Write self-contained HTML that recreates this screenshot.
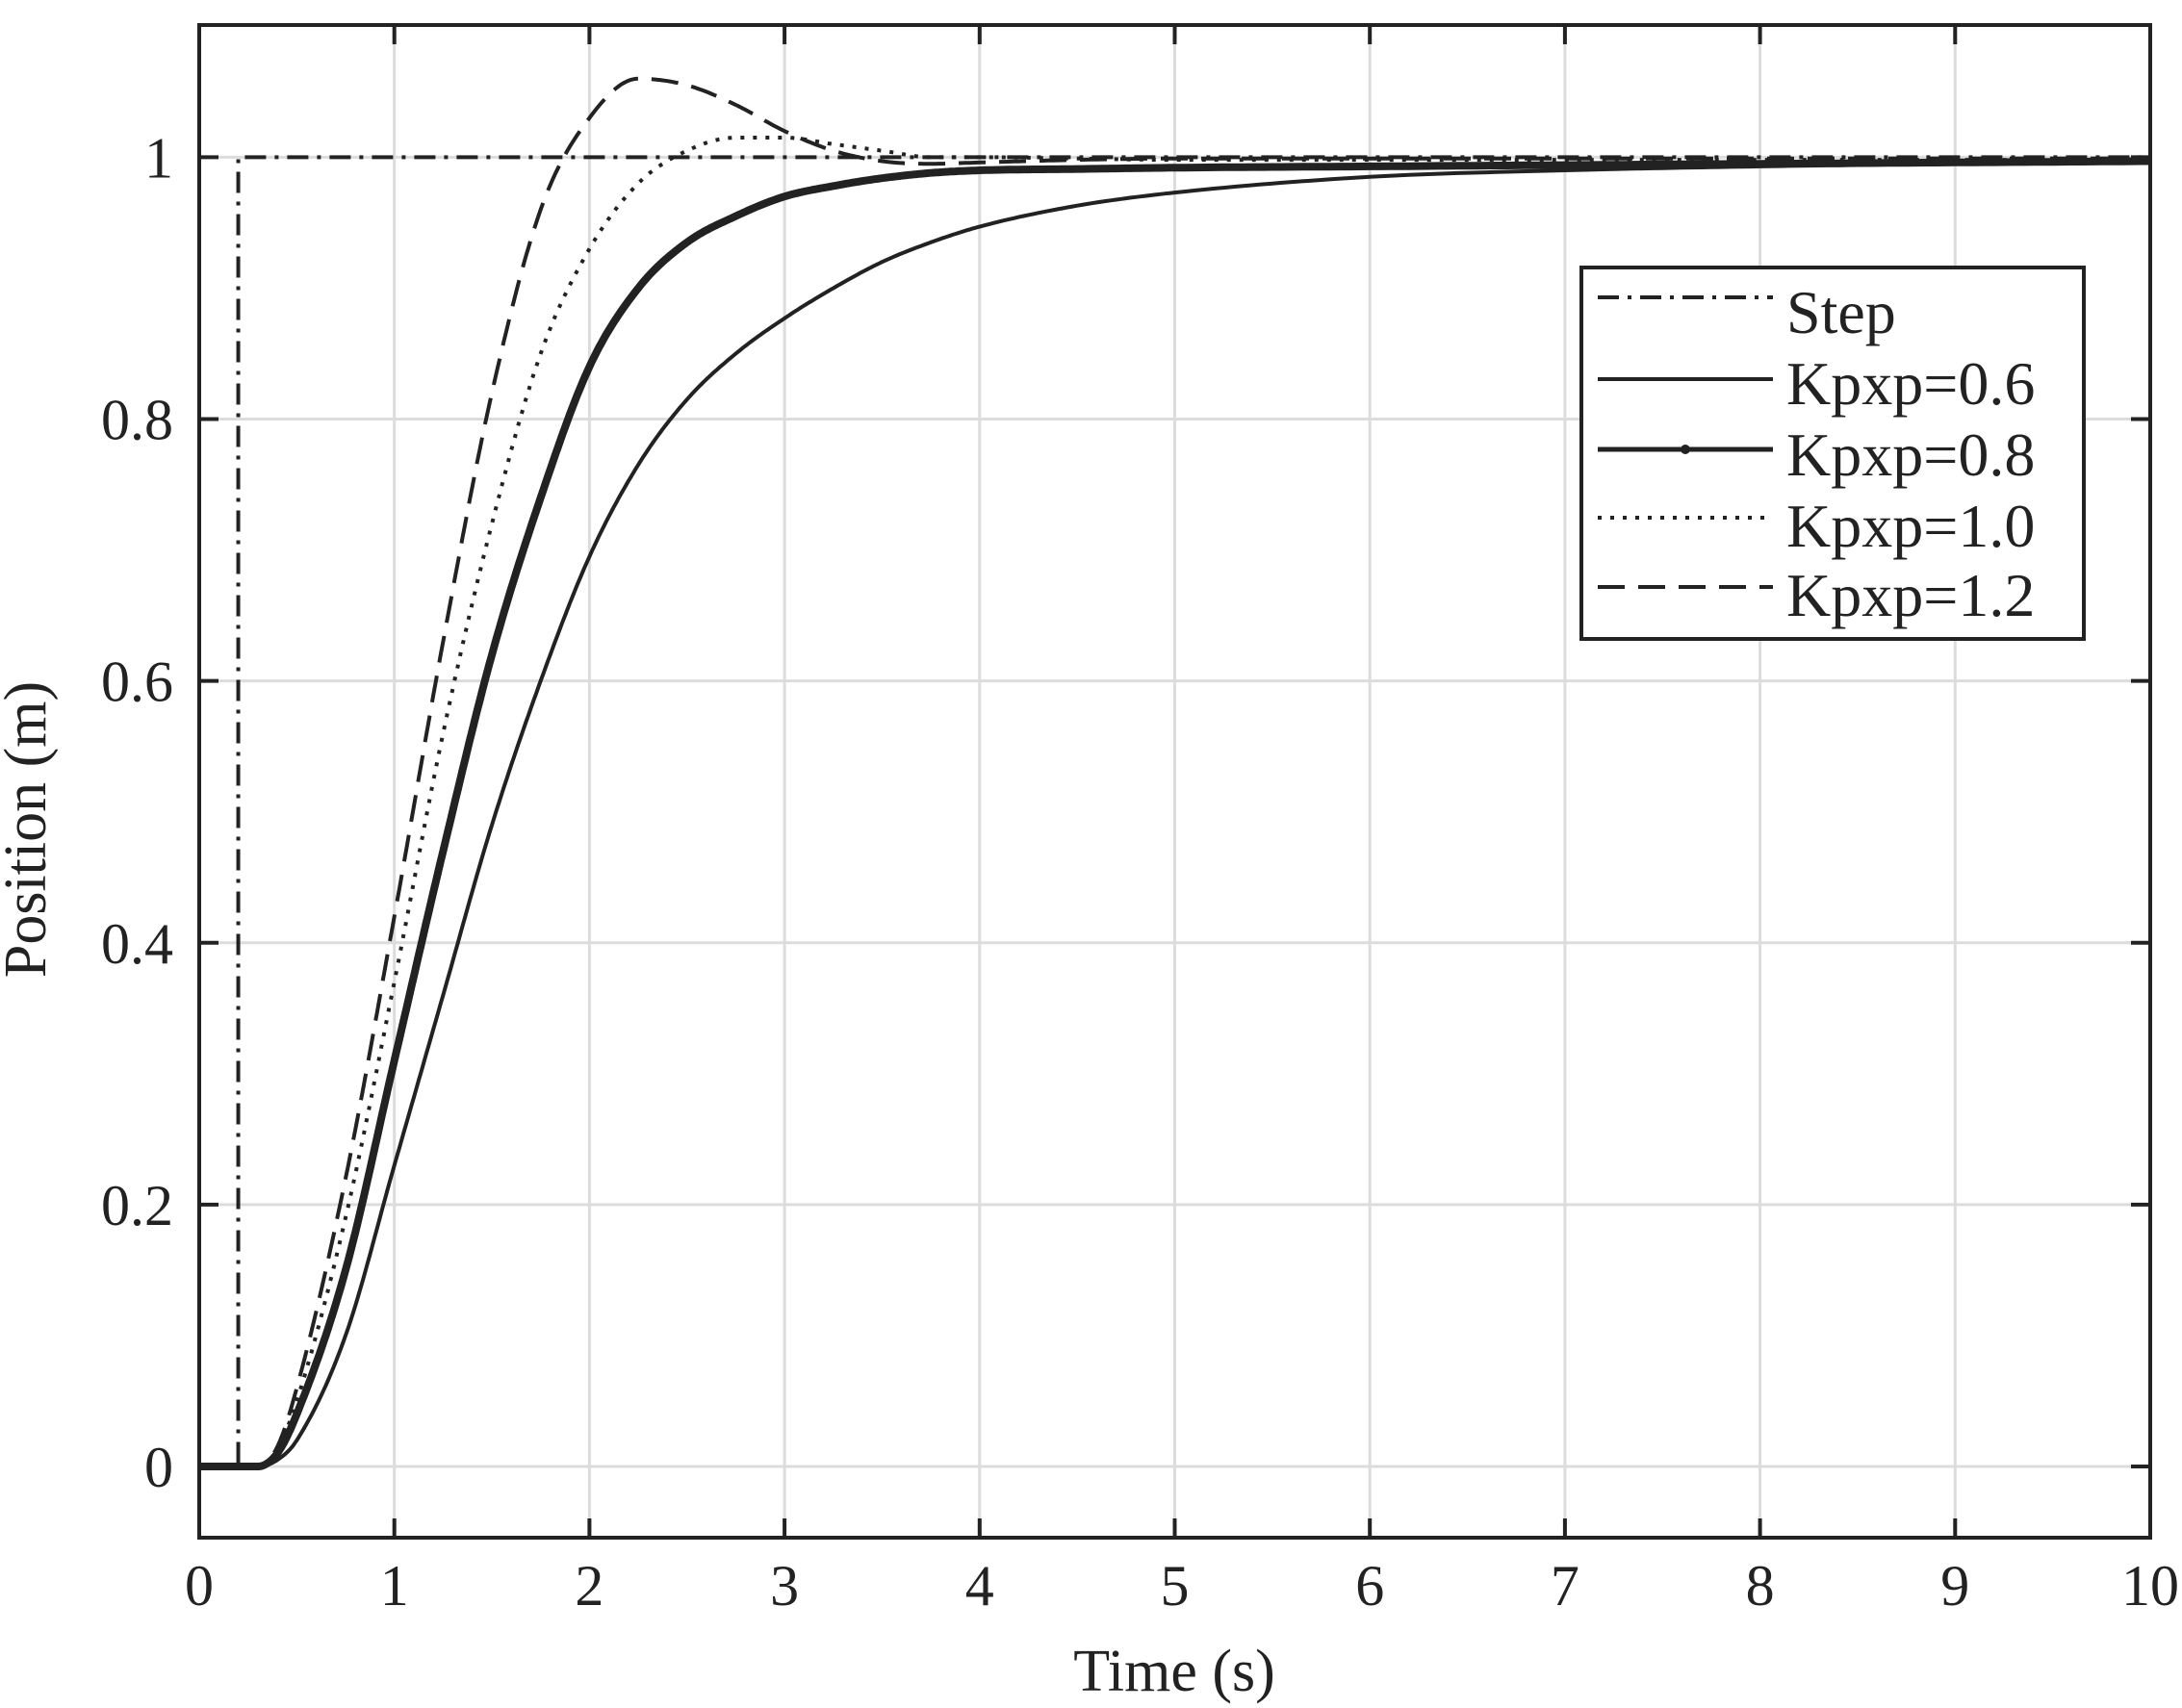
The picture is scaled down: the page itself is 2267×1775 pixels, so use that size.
<!DOCTYPE html>
<html><head><meta charset="utf-8"><style>
html,body{margin:0;padding:0;background:#fff;}
svg{display:block;font-family:"Liberation Serif",serif;}
</style></head><body>
<svg id="chart" width="2267" height="1775" viewBox="0 0 2267 1775" xmlns="http://www.w3.org/2000/svg">
<g id="grid"></g>
<g id="series"></g>
<g id="axes"></g>
<text x="1220" y="1757" font-size="62" text-anchor="middle" fill="#222">Time (s)</text>
<text transform="translate(47,862) rotate(-90)" font-size="62" text-anchor="middle" fill="#222">Position (m)</text>
<g>
<rect x="1643" y="278" width="522" height="386" fill="#fff" stroke="#222" stroke-width="4"/>
<line x1="1660" y1="309" x2="1842" y2="309" stroke="#222" stroke-width="4" stroke-dasharray="22,9,4,9"/>
<text x="1856" y="346" font-size="64" fill="#222">Step</text>
<line x1="1660" y1="394" x2="1842" y2="394" stroke="#222" stroke-width="4"/>
<text x="1856" y="420" font-size="64" fill="#222">Kpxp=0.6</text>
<line x1="1660" y1="467" x2="1842" y2="467" stroke="#222" stroke-width="5"/>
<circle cx="1751" cy="467" r="5" fill="#222"/>
<text x="1856" y="494" font-size="64" fill="#222">Kpxp=0.8</text>
<line x1="1660" y1="538" x2="1842" y2="538" stroke="#222" stroke-width="4" stroke-dasharray="4,9"/>
<text x="1856" y="568" font-size="64" fill="#222">Kpxp=1.0</text>
<line x1="1660" y1="610" x2="1842" y2="610" stroke="#222" stroke-width="4" stroke-dasharray="28,14"/>
<text x="1856" y="640" font-size="64" fill="#222">Kpxp=1.2</text>
</g>
</svg>
<script>
const xTicks=[0,1,2,3,4,5,6,7,8,9,10];
const yTicks=[0,0.2,0.4,0.6,0.8,1];
const yTickLabels=["0","0.2","0.4","0.6","0.8","1"];
const times=[0,0.3,0.4,0.5,0.75,1,1.25,1.5,1.75,2,2.25,2.5,2.75,3,3.25,3.5,3.75,4,4.5,5,6,7,8,9,10];
const kp06=[0,0,0.005,0.02,0.1,0.23,0.36,0.49,0.6,0.695,0.765,0.815,0.85,0.877,0.9,0.92,0.935,0.947,0.963,0.973,0.985,0.99,0.993,0.995,0.996];
const kp08=[0,0,0.01,0.04,0.15,0.31,0.47,0.62,0.74,0.84,0.9,0.935,0.955,0.97,0.978,0.984,0.988,0.99,0.991,0.992,0.993,0.994,0.995,0.996,0.997];
const kp10=[0,0,0.013,0.05,0.19,0.37,0.56,0.72,0.85,0.93,0.98,1.005,1.015,1.015,1.01,1.005,1.0,1.0,0.999,0.998,0.998,0.998,0.998,0.998,0.998];
const kp12=[0,0,0.015,0.06,0.22,0.42,0.63,0.82,0.96,1.03,1.06,1.055,1.04,1.02,1.005,0.997,0.995,0.996,0.998,0.999,0.999,0.999,0.999,0.999,0.999];
const stepTime=0.2;
const stepValue=1;

const L=207,R=2234,T=26,B=1598;
const X=t=>L+(t-0)/(10-0)*(R-L);
const Y0=1524,Y1=163.4;
const Y=v=>Y0+(Y1-Y0)*v;
const NS="http://www.w3.org/2000/svg";
function mk(tag,attrs,parent){const e=document.createElementNS(NS,tag);for(const k in attrs)e.setAttribute(k,attrs[k]);parent.appendChild(e);return e;}
const grid=document.getElementById('grid'),axes=document.getElementById('axes'),series=document.getElementById('series');

xTicks.forEach(t=>{
  const g=mk('line',{x1:X(t),x2:X(t),y1:T,y2:B,stroke:'#dcdcdc','stroke-width':3},grid);
  
  
  const a=mk('line',{x1:X(t),x2:X(t),y1:B,y2:B-20,stroke:'#222','stroke-width':4},axes);
  
  
  const b=mk('line',{x1:X(t),x2:X(t),y1:T,y2:T+20,stroke:'#222','stroke-width':4},axes);
  
  
  const lb=mk('text',{x:X(t),y:1668,'font-size':60,'text-anchor':'middle',fill:'#222'},axes);
  lb.textContent=String(t);
  
  
});
yTicks.forEach((v,i)=>{
  const g=mk('line',{x1:L,x2:R,y1:Y(v),y2:Y(v),stroke:'#dcdcdc','stroke-width':3},grid);
  
  
  const a=mk('line',{x1:L,x2:L+20,y1:Y(v),y2:Y(v),stroke:'#222','stroke-width':4},axes);
  
  
  const b=mk('line',{x1:R,x2:R-20,y1:Y(v),y2:Y(v),stroke:'#222','stroke-width':4},axes);
  
  
  const lb=mk('text',{x:180,y:Y(v)+21,'font-size':60,'text-anchor':'end',fill:'#222'},axes);
  lb.textContent=yTickLabels[i];
  
  
});
const frame=mk('rect',{x:L,y:T,width:R-L,height:B-T,fill:'none',stroke:'#222','stroke-width':4},axes);



// monotone cubic (Fritsch-Carlson) interpolation, sampled as polyline
function smoothPath(xs,ys){
  const n=xs.length,d=[],m=new Array(n);
  for(let i=0;i<n-1;i++)d.push((ys[i+1]-ys[i])/(xs[i+1]-xs[i]));
  m[0]=d[0];m[n-1]=d[n-2];
  for(let i=1;i<n-1;i++){m[i]=(d[i-1]*d[i]<=0)?0:(d[i-1]+d[i])/2;}
  for(let i=0;i<n-1;i++){
    if(d[i]===0){m[i]=0;m[i+1]=0;continue;}
    const a=m[i]/d[i],b=m[i+1]/d[i],s=a*a+b*b;
    if(s>9){const t=3/Math.sqrt(s);m[i]=t*a*d[i];m[i+1]=t*b*d[i];}
  }
  let path='M'+X(xs[0])+','+Y(ys[0]);
  for(let i=0;i<n-1;i++){
    const h=xs[i+1]-xs[i],N=20;
    for(let k=1;k<=N;k++){
      const t=k/N,t2=t*t,t3=t2*t;
      const v=(2*t3-3*t2+1)*ys[i]+(t3-2*t2+t)*h*m[i]+(-2*t3+3*t2)*ys[i+1]+(t3-t2)*h*m[i+1];
      path+=' L'+X(xs[i]+t*h).toFixed(1)+','+Y(v).toFixed(1);
    }
  }
  return path;
}
const step=mk('path',{d:`M${X(0)},${Y(0)} L${X(stepTime)},${Y(0)} L${X(stepTime)},${Y(stepValue)} L${X(10)},${Y(stepValue)}`,fill:'none',stroke:'#222','stroke-width':4,'stroke-dasharray':'22,9,4,9'},series);


const s06=mk('path',{d:smoothPath(times,kp06),fill:'none',stroke:'#222','stroke-width':4},series);


const s10=mk('path',{d:smoothPath(times,kp10),fill:'none',stroke:'#222','stroke-width':4,'stroke-dasharray':'4,9'},series);


const s12=mk('path',{d:smoothPath(times,kp12),fill:'none',stroke:'#222','stroke-width':4,'stroke-dasharray':'28,14'},series);


const s08=mk('path',{d:smoothPath(times,kp08),fill:'none',stroke:'#222','stroke-width':8},series);


</script>
</body></html>
